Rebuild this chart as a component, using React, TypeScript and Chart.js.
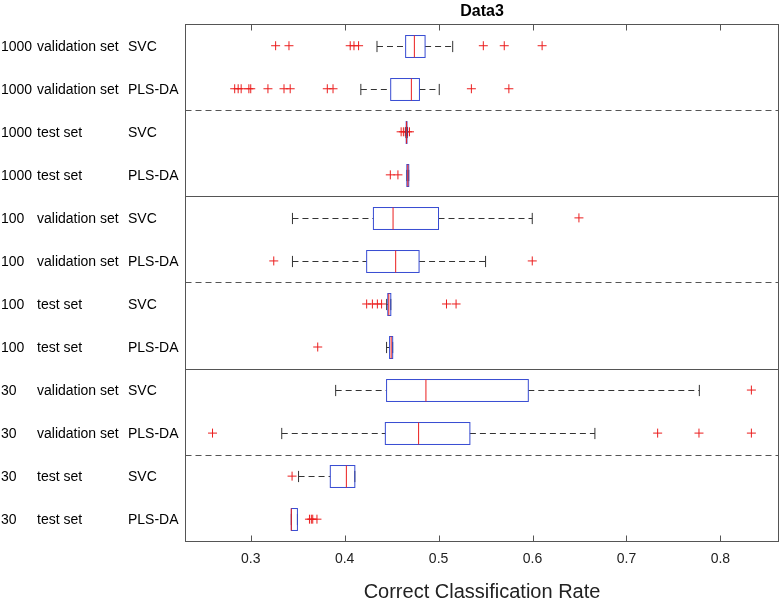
import React, { useEffect, useRef } from 'react';
import { Chart, registerables } from 'chart.js';

Chart.register(...registerables);

const FONT = "'Liberation Sans', Arial, Helvetica, sans-serif";

const chartTitle = 'Data3';
const xAxisTitle = 'Correct Classification Rate';
const xTicks = [0.3, 0.4, 0.5, 0.6, 0.7, 0.8];

const sizeLabels = ['1000', '1000', '1000', '1000', '100', '100', '100', '100', '30', '30', '30', '30'];
const setLabels = [
  'validation set', 'validation set', 'test set', 'test set',
  'validation set', 'validation set', 'test set', 'test set',
  'validation set', 'validation set', 'test set', 'test set',
];
const methodLabels = ['SVC', 'PLS-DA', 'SVC', 'PLS-DA', 'SVC', 'PLS-DA', 'SVC', 'PLS-DA', 'SVC', 'PLS-DA', 'SVC', 'PLS-DA'];

const whiskerLow = [0.4344, 0.4172, 0.4652, 0.4662, 0.3444, 0.3444, 0.4447, 0.4446, 0.3904, 0.3330, 0.3509, 0.3432];
const q1 = [0.4649, 0.4490, 0.4655, 0.4662, 0.4306, 0.4234, 0.4459, 0.4478, 0.4446, 0.4433, 0.3847, 0.3432];
const median = [0.4742, 0.4710, 0.4659, 0.4672, 0.4515, 0.4543, 0.4470, 0.4495, 0.4865, 0.4787, 0.4018, 0.3432];
const q3 = [0.4856, 0.4796, 0.4663, 0.4682, 0.4999, 0.4792, 0.4491, 0.4511, 0.5955, 0.5333, 0.4108, 0.3497];
const whiskerHigh = [0.5150, 0.5007, 0.4666, 0.4682, 0.5997, 0.5500, 0.4491, 0.4511, 0.7776, 0.6664, 0.4108, 0.3497];
const outliers = [
  [0.3265, 0.3407, 0.4059, 0.4099, 0.4148, 0.5476, 0.5699, 0.6102],
  [0.2829, 0.2866, 0.2898, 0.2980, 0.3000, 0.3183, 0.3354, 0.3420, 0.3815, 0.3876, 0.5349, 0.5748],
  [0.4601, 0.4625, 0.4645, 0.4670, 0.4690],
  [0.4486, 0.4567],
  [0.6494],
  [0.3245, 0.5997],
  [0.4234, 0.4295, 0.4348, 0.4393, 0.5084, 0.5186],
  [0.3713],
  [0.8330],
  [0.2593, 0.7332, 0.7772, 0.8330],
  [0.3440],
  [0.3625, 0.3645, 0.3660, 0.3705],
];

const dashedSeparators = [2.5, 6.5, 10.5];
const solidSeparators = [4.5, 8.5];

const BLUE = 'rgb(55,75,210)';
const RED = 'rgb(235,30,30)';
const WHISKER = '#333333';
const FRAME = '#555555';

const boxPlugin = {
  id: 'boxplotDraw',
  afterDatasetsDraw(chart: any) {
    const ctx = chart.ctx;
    const x = chart.scales.x;
    const y = chart.scales.y;
    const half = Math.abs(y.getPixelForValue(1.255) - y.getPixelForValue(1));
    const capHalf = Math.abs(y.getPixelForValue(1.13) - y.getPixelForValue(1));
    ctx.save();
    for (let i = 0; i < q1.length; i++) {
      const yp = Math.round(y.getPixelForValue(i + 1)) + 0.5;
      const xLo = x.getPixelForValue(whiskerLow[i]);
      const xQ1 = x.getPixelForValue(q1[i]);
      const xMed = x.getPixelForValue(median[i]);
      const xQ3 = x.getPixelForValue(q3[i]);
      const xHi = x.getPixelForValue(whiskerHigh[i]);
      ctx.lineWidth = 1;
      ctx.strokeStyle = WHISKER;
      ctx.setLineDash([6, 4]);
      if (xQ1 - xLo > 1) {
        ctx.beginPath();
        ctx.moveTo(xLo, yp);
        ctx.lineTo(xQ1, yp);
        ctx.stroke();
      }
      if (xHi - xQ3 > 1) {
        ctx.beginPath();
        ctx.moveTo(xQ3, yp);
        ctx.lineTo(xHi, yp);
        ctx.stroke();
      }
      ctx.setLineDash([]);
      ctx.beginPath();
      ctx.moveTo(xLo, yp - capHalf);
      ctx.lineTo(xLo, yp + capHalf);
      ctx.moveTo(xHi, yp - capHalf);
      ctx.lineTo(xHi, yp + capHalf);
      ctx.stroke();
      ctx.strokeStyle = BLUE;
      ctx.strokeRect(xQ1, yp - half, Math.max(xQ3 - xQ1, 0.5), 2 * half);
      ctx.strokeStyle = RED;
      ctx.beginPath();
      ctx.moveTo(xMed, yp - half);
      ctx.lineTo(xMed, yp + half);
      ctx.stroke();
    }
    ctx.restore();
  },
  afterDraw(chart: any) {
    const ctx = chart.ctx;
    const { left, right, top, bottom } = chart.chartArea;
    const x = chart.scales.x;
    const y = chart.scales.y;
    ctx.save();
    ctx.lineWidth = 1;
    ctx.strokeStyle = FRAME;
    const l = Math.round(left) + 0.5;
    const r = Math.round(right) - 0.5;
    const t = Math.round(top) + 0.5;
    const b = Math.round(bottom) + 0.5;
    ctx.setLineDash([6, 4]);
    dashedSeparators.forEach((v) => {
      const yp = Math.round(y.getPixelForValue(v)) + 0.5;
      ctx.beginPath();
      ctx.moveTo(l, yp);
      ctx.lineTo(r, yp);
      ctx.stroke();
    });
    ctx.setLineDash([]);
    solidSeparators.forEach((v) => {
      const yp = Math.round(y.getPixelForValue(v)) + 0.5;
      ctx.beginPath();
      ctx.moveTo(l, yp);
      ctx.lineTo(r, yp);
      ctx.stroke();
    });
    ctx.strokeRect(l, t, r - l, b - t);
    ctx.beginPath();
    xTicks.forEach((v) => {
      const xp = Math.round(x.getPixelForValue(v)) + 0.5;
      ctx.moveTo(xp, t);
      ctx.lineTo(xp, t + 6);
      ctx.moveTo(xp, b);
      ctx.lineTo(xp, b - 6);
    });
    ctx.stroke();
    ctx.fillStyle = '#000000';
    ctx.font = `14px ${FONT}`;
    ctx.textBaseline = 'middle';
    ctx.textAlign = 'left';
    for (let i = 0; i < sizeLabels.length; i++) {
      const yp = y.getPixelForValue(i + 1) + 1;
      ctx.fillText(sizeLabels[i], 1, yp);
      ctx.fillText(setLabels[i], 37, yp);
      ctx.fillText(methodLabels[i], 128, yp);
    }
    ctx.restore();
  },
};

export default function App() {
  const canvasRef = useRef<HTMLCanvasElement | null>(null);

  useEffect(() => {
    const canvas = canvasRef.current;
    if (!canvas) return;
    const points: { x: number; y: number }[] = [];
    outliers.forEach((row, i) => row.forEach((v) => points.push({ x: v, y: i + 1 })));
    const chart = new Chart(canvas, {
      type: 'scatter',
      data: {
        datasets: [
          {
            data: points,
            pointStyle: 'cross',
            pointRadius: 4.5,
            pointHoverRadius: 4.5,
            borderColor: RED,
            backgroundColor: RED,
            borderWidth: 1,
          },
        ],
      },
      options: {
        responsive: false,
        animation: false,
        events: [],
        layout: { autoPadding: false, padding: { left: 185, right: 1, top: 0, bottom: 0 } },
        plugins: {
          legend: { display: false },
          tooltip: { enabled: false },
          title: {
            display: true,
            text: chartTitle,
            color: '#000000',
            font: { family: FONT, size: 16, weight: 'bold', lineHeight: 1.2 },
            padding: { top: 2, bottom: 3 },
          },
        },
        scales: {
          x: {
            type: 'linear',
            min: 0.23,
            max: 0.8624,
            afterBuildTicks: (scale: any) => {
              scale.ticks = xTicks.map((v) => ({ value: v }));
            },
            afterFit: (scale: any) => {
              scale.paddingLeft = 0;
              scale.paddingRight = 0;
            },
            ticks: {
              color: '#222222',
              font: { family: FONT, size: 14 },
              padding: 10,
              callback: (v: any) => Number(v).toFixed(1),
            },
            grid: { display: false, drawTicks: false },
            border: { display: false },
            title: {
              display: true,
              text: xAxisTitle,
              color: '#222222',
              font: { family: FONT, size: 20, lineHeight: 1.2 },
              padding: { top: 2.5, bottom: 1 },
            },
          },
          y: {
            type: 'linear',
            min: 0.5,
            max: 12.5,
            reverse: true,
            display: false,
          },
        },
      },
      plugins: [boxPlugin],
    } as any);
    return () => chart.destroy();
  }, []);

  return (
    <div style={{ position: 'fixed', left: 0, top: 0, width: 780, height: 605, background: '#ffffff' }}>
      <canvas ref={canvasRef} width={780} height={605} />
    </div>
  );
}
